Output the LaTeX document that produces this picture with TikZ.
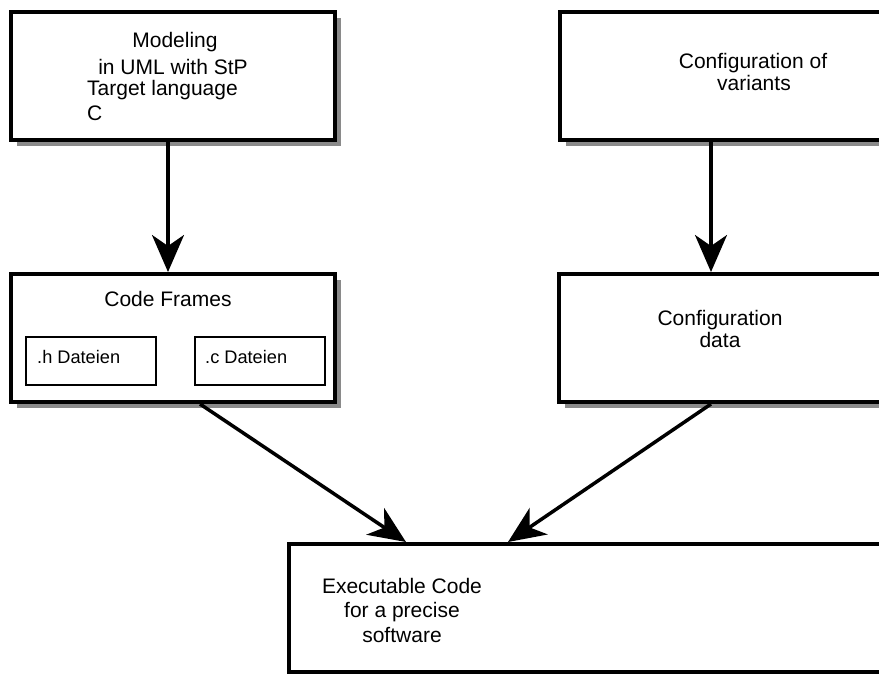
\documentclass[tikz,border=0pt]{standalone}
\usepackage{fontspec}
\setmainfont{Liberation Sans}
\usetikzlibrary{arrows.meta,shadows}

\definecolor{shadowgray}{HTML}{8A8A8A}

\tikzset{
  box/.style={draw=black, line width=4pt, fill=white, rectangle, inner sep=0pt,
    drop shadow={shadow xshift=6pt, shadow yshift=-6pt, fill=shadowgray, opacity=1}},
  subbox/.style={draw=black, line width=1.3pt, fill=white, rectangle, inner sep=0pt},
  txt/.style={inner sep=0pt, font=\fontsize{21}{24}\selectfont},
  smalltxt/.style={inner sep=0pt, font=\fontsize{18.2}{22}\selectfont},
  flow/.style={line width=3.5pt, -{Stealth[length=37pt, width=32pt, inset=11pt]}},
}

\begin{document}
\begin{tikzpicture}[x=1pt, y=-1pt]
  \useasboundingbox (0,0) rectangle (879,673);
  \clip (0,0) rectangle (879,673);

  % main boxes
  \node[box, minimum width=324pt, minimum height=128pt] (model) at (173,76) {};
  \node[box, minimum width=440pt, minimum height=128pt] (cfg) at (780,76) {};
  \node[box, minimum width=324pt, minimum height=128pt] (code) at (173,338) {};
  \node[box, minimum width=441pt, minimum height=128pt] (data) at (779.5,338) {};
  \node[box, minimum width=711pt, minimum height=128pt] (exe) at (644.5,608) {};

  % inner file boxes of the code frames
  \node[subbox, minimum width=130pt, minimum height=48pt] (hfiles) at (91,361) {};
  \node[subbox, minimum width=130pt, minimum height=48pt] (cfiles) at (260,361) {};

  % labels
  \node[txt, anchor=base] (m1) at (175,47) {Modeling};
  \node[txt, anchor=base] (m2) at (173,74) {in UML with StP};
  \node[txt, anchor=base west] (m3) at (87,95) {Target language};
  \node[txt, anchor=base west] (m4) at (87,120) {C};

  \node[txt, anchor=base] (v1) at (753,68) {Configuration of};
  \node[txt, anchor=base] (v2) at (754,90) {variants};

  \node[txt, anchor=base] (c1) at (168,306) {Code Frames};
  \node[smalltxt, anchor=base west] (h1) at (37,363) {.h Dateien};
  \node[smalltxt, anchor=base west] (h2) at (205,363) {.c Dateien};

  \node[txt, anchor=base] (d1) at (720,325) {Configuration};
  \node[txt, anchor=base] (d2) at (720,347) {data};

  \node[txt, anchor=base] (e1) at (402,593) {Executable Code};
  \node[txt, anchor=base] (e2) at (402,617) {for a precise};
  \node[txt, anchor=base] (e3) at (402,642) {software};

  % connectors
  \draw[flow] ([xshift=-5pt]model.south) -- ([xshift=-5pt]code.north);
  \draw[flow] ([xshift=153pt]cfg.south west) -- ([xshift=154pt]data.north west);
  \draw[flow] ([xshift=27pt]code.south) -- ([xshift=119pt]exe.north west);
  \draw[flow] ([xshift=154pt]data.south west) -- ([xshift=221pt]exe.north west);
\end{tikzpicture}
\end{document}
